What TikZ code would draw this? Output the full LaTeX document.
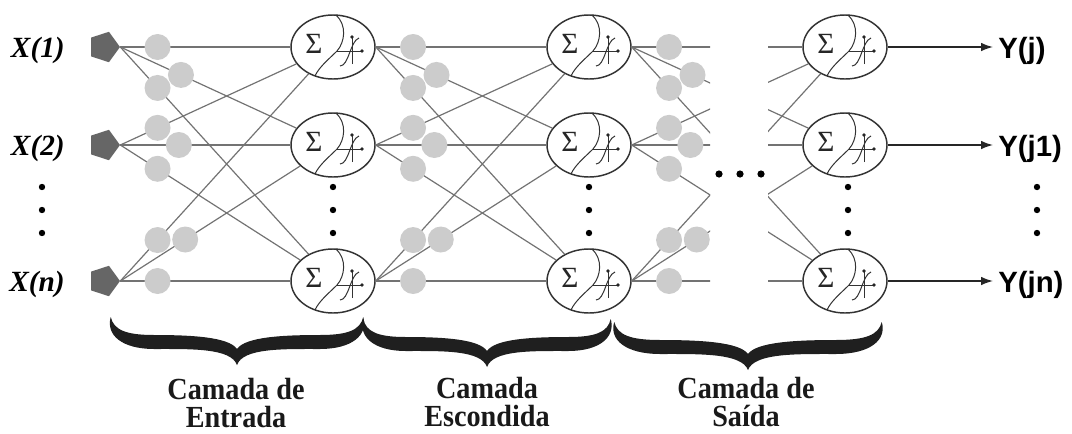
\documentclass[tikz,border=0pt]{standalone}
\usepackage{fontspec}
\setmainfont{Liberation Serif}
\newfontfamily\labelsans{Liberation Sans}
\usetikzlibrary{shapes.geometric,calc,arrows.meta}

\tikzset{
  neuron/.style={ellipse, draw=black!80, line width=1.1pt, minimum width=63pt, minimum height=48pt, inner sep=0pt},
  inpt/.style={regular polygon, regular polygon sides=5, shape border rotate=-90, fill=black!60, minimum size=24pt, inner sep=0pt},
  wire/.style={draw=black!55, line width=0.9pt},
  weight/.style={circle, fill=black!20, minimum size=19.5pt, inner sep=0pt},
  bigdot/.style={circle, fill=black, minimum size=4.8pt, inner sep=0pt},
  glyph/.style={line width=0.75pt, draw=black!80},
  sigma/.style={font=\fontsize{22}{22}\selectfont, inner sep=0pt, text=black!85},
  outwire/.style={draw=black!85, line width=1.1pt, -{Latex[length=9pt,width=6.5pt]}},
  inlabel/.style={font=\fontsize{22}{22}\selectfont\bfseries\itshape, anchor=base east, inner sep=0pt},
  outlabel/.style={font=\labelsans\fontsize{22}{22}\selectfont\bfseries, anchor=base west, inner sep=0pt},
  layertext/.style={font=\fontsize{23}{21}\selectfont\bfseries, align=center, anchor=north, inner sep=0pt, text=black!90},
  bracefill/.style={fill=black!88},
}

% summation / activation symbol drawn inside a neuron
\newcommand\neuronmark[1]{%
  \begin{scope}[shift={(#1.center)}]
    \draw[glyph] (3,-32) .. controls (14,-22) and (12,-5) .. (4,4)
                 .. controls (-4,12) and (-14,20) .. (-18,29);
    \node[sigma] (#1-sig) at (-19,-3) {Σ};
    \draw[glyph] (4,4) -- (28,4);
    \fill[black!85] (29,4) circle (1.4pt);
    \draw[glyph] (19,17) -- (19,-9);
    \fill[black!85] (19,-10) circle (1.4pt);
    \draw[glyph] (7,19) .. controls (16,19) and (17,-6) .. (26,-9);
  \end{scope}}

% curly brace under a layer: centre x, point y, horizontal scale
\newcommand\layerbrace[3]{%
  \fill[bracefill, shift={(#1,#2)}, xscale=#3]
    (-125,-48) .. controls (-122,-35) and (-110,-30) .. (-82,-30)
    .. controls (-45,-30) and (-8,-28) .. (0,-16)
    .. controls (8,-28) and (45,-30) .. (82,-30)
    .. controls (110,-30) and (122,-35) .. (125,-48)
    .. controls (130,-30) and (114,-16) .. (82,-16)
    .. controls (45,-16) and (6,-17) .. (0,0)
    .. controls (-6,-17) and (-45,-16) .. (-82,-16)
    .. controls (-114,-16) and (-130,-30) .. cycle;}

% caption line, slightly condensed
\newcommand\capline[1]{\scalebox{0.92}[1]{#1}}

\begin{document}
\begin{tikzpicture}[x=0.75pt,y=-0.75pt]
\useasboundingbox (0,0) rectangle (1072,433);

% neurons of the three layers
\foreach \c/\cx in {1/333,2/589,3/845}{
  \foreach \r/\ry in {1/47,2/145,3/281}{
    \node[neuron] (n-\c-\r) at (\cx,\ry) {};
  }
}

% inputs
\foreach \r/\ry/\t in {1/47/1,2/145/2,3/281/n}{
  \node[inpt] (x-\r) at (104,\ry) {};
  \node[inlabel] (xl-\r) at (65,\ry+10) {X(\t)};
}

% weighted connections, interrupted between the hidden and output layers
\begin{scope}
  \clip (0,0) rectangle (710,433) (768,0) rectangle (1072,433);
  \foreach \L/\src in {1/x,2/n-1,3/n-2}{
    \foreach \r in {1,2,3}{
      \foreach \t in {1,2,3}{
        \draw[wire] (\src-\r.east) -- (n-\L-\t);
      }
    }
  }
  \foreach \L/\src in {1/x,2/n-1,3/n-2}{
    \foreach \r/\fb in {1/0.285,2/0.275,3/0.305}{
      \foreach \t in {1,2,3}{
        \pgfmathsetmacro\f{\t==2 ? \fb : 0.175}
        \node[weight] (w-\L-\r-\t) at ($(\src-\r.east)!\f!(n-\L-\t.center)$) {};
      }
    }
  }
\end{scope}

% symbols inside the neurons
\foreach \c in {1,2,3}{
  \foreach \r in {1,2,3}{
    \neuronmark{n-\c-\r}
  }
}

% outputs
\foreach \r/\ry/\t in {1/47/j,2/145/j1,3/281/jn}{
  \coordinate (y-\r) at (993,\ry);
  \draw[outwire] (n-3-\r) -- (y-\r);
  \node[outlabel] (yl-\r) at (998,\ry+11) {Y(\t)};
}

% ellipsis dots
\foreach \i/\dx in {1/42,2/333,3/589,4/848,5/1037}{
  \foreach \j/\dy in {1/187,2/210,3/233}{
    \node[bigdot] (vd-\i-\j) at (\dx,\dy) {};
  }
}
\foreach \i/\dx in {1/719,2/740,3/761}{
  \node[bigdot, minimum size=5.4pt] (hd-\i) at (\dx,174) {};
}

% layer braces and captions
\layerbrace{237}{365}{1.01}
\layerbrace{487}{367}{0.99}
\layerbrace{748}{370}{1.07}
\node[layertext] (cap-1) at (236,378) {\capline{Camada de}\\\capline{Entrada}};
\node[layertext] (cap-2) at (487,377) {\capline{Camada}\\\capline{Escondida}};
\node[layertext] (cap-3) at (746,377) {\capline{Camada de}\\\capline{Saída}};
\end{tikzpicture}
\end{document}
